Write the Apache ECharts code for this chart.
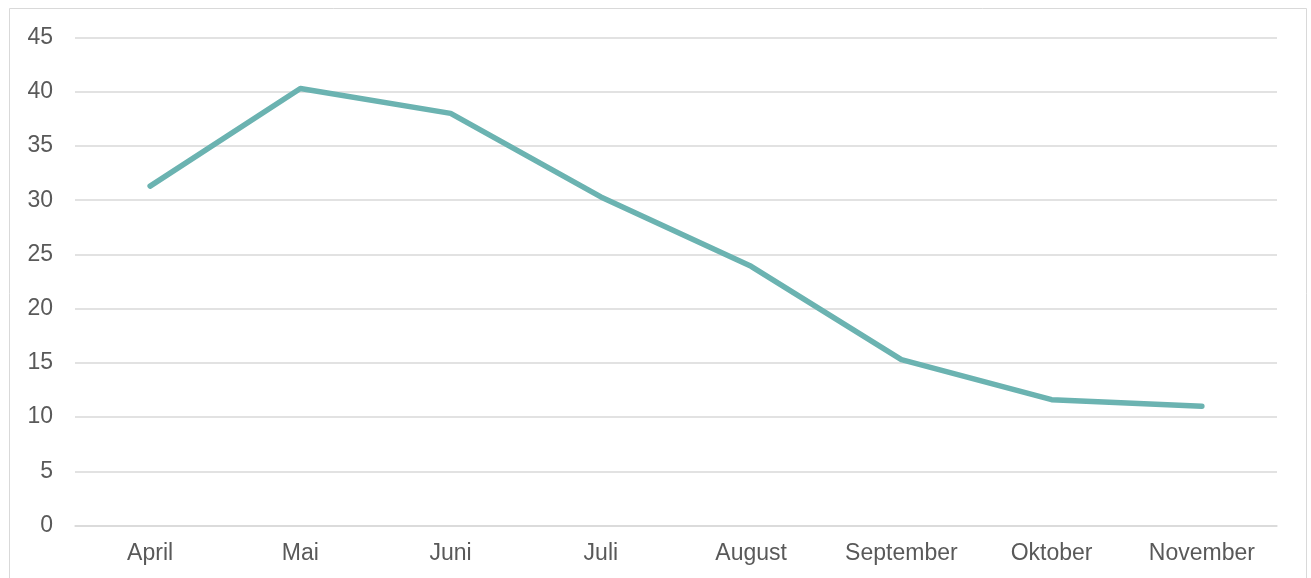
<!DOCTYPE html>
<html>
<head>
<meta charset="utf-8">
<script src="https://cdn.jsdelivr.net/npm/echarts@6/dist/echarts.min.js"></script>
<style>
html,body{margin:0;padding:0;background:#fff;}
#chart{width:1311px;height:578px;}
</style>
</head>
<body>
<div id="chart"></div>
<script>
const categories = ['April', 'Mai', 'Juni', 'Juli', 'August', 'September', 'Oktober', 'November'];
const values = [31.3, 40.3, 38.0, 30.3, 23.9, 15.3, 11.6, 11.0];

const chart = echarts.init(document.getElementById('chart'), null, {renderer: 'canvas'});
const font = '"Liberation Sans", Arial, sans-serif';
chart.setOption({
  animation: false,
  backgroundColor: '#ffffff',
  graphic: [{
    type: 'rect',
    shape: {x: 9.5, y: 8.5, width: 1297, height: 620},
    style: {fill: 'none', stroke: '#d9d9d9', lineWidth: 1},
    silent: true
  }],
  grid: {left: 75, right: 34, top: 37.5, bottom: 52.5, containLabel: false},
  xAxis: {
    type: 'category',
    data: categories,
    boundaryGap: true,
    axisLine: {show: true, lineStyle: {color: '#d9d9d9', width: 1.5}},
    axisTick: {show: false},
    axisLabel: {color: '#595959', fontSize: 23, fontFamily: font, margin: 17}
  },
  yAxis: {
    type: 'value',
    min: 0,
    max: 45,
    interval: 5,
    axisLine: {show: false},
    axisTick: {show: false},
    splitLine: {lineStyle: {color: '#d9d9d9', width: 1.5}},
    axisLabel: {color: '#595959', fontSize: 23, fontFamily: font, margin: 22, padding: [4, 0, 0, 0]}
  },
  series: [{
    type: 'line',
    data: values,
    showSymbol: false,
    symbol: 'none',
    lineStyle: {color: '#6bb3b1', width: 5.5, cap: 'round', join: 'round'},
    itemStyle: {color: '#6bb3b1'}
  }]
});
</script>
</body>
</html>
